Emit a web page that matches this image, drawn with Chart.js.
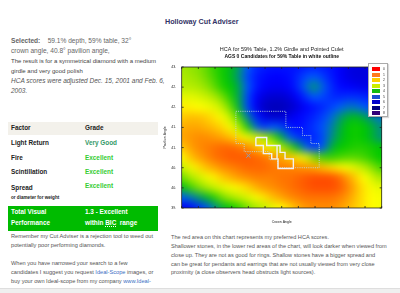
<!DOCTYPE html>
<html>
<head>
<meta charset="utf-8">
<script src="https://cdn.jsdelivr.net/npm/chart.js@4.4.1/dist/chart.umd.min.js"></script>
<style>
html, body { margin: 0; padding: 0; background: #fff; }
body { width: 400px; height: 293px; overflow: hidden; position: relative;
       font-family: Arial, "Liberation Sans", sans-serif; color: #555; }
.abs { position: absolute; white-space: nowrap; }
.row { position: absolute; white-space: nowrap; height: 10px; line-height: 10px; font-size: 6.4px; font-weight: bold; color: #222; }
.vg { color: #339966; }
.ex { color: #33cc33; }
a { color: #3a6fc4; text-decoration: none; }
#legendBox { position: absolute; left: 368px; top: 63px; width: 18px; height: 52px; background: #fff;
             border: 1px solid #aaa; box-shadow: 1px 1px 1px rgba(0,0,0,0.15); }
#legendBox div { position: absolute; left: 3px; width: 8px; height: 4px; }
#legendBox span { position: absolute; left: 14px; font-size: 3.4px; line-height: 4px; color: #333; }
</style>
</head>
<body>

<!-- left column -->
<div class="abs" style="left:11px;top:36px;font-size:6.6px;line-height:10px;color:#666"><b>Selected:</b>&nbsp;&nbsp;&nbsp; 59.1% depth, 59% table, 32°<br>crown angle, 40.8° pavilion angle,</div>
<div class="abs" style="left:11px;top:56px;font-size:6px;line-height:10px;color:#444">The result is for a symmetrical diamond with a medium<br>girdle and very good polish</div>
<div class="abs" style="left:11px;top:76px;font-size:6.5px;line-height:10px;color:#555;font-style:italic">HCA scores were adjusted Dec. 15, 2001 and Feb. 6,<br>2003.</div>

<div class="abs" style="left:8px;top:122px;width:150px;height:13px;background:#f3f1eb"></div>
<div class="row" style="left:11px;top:123px">Factor</div>
<div class="row" style="left:85px;top:123px">Grade</div>
<div class="row" style="left:11px;top:137.7px">Light Return</div>
<div class="row vg" style="left:85px;top:137.7px">Very Good</div>
<div class="row" style="left:11px;top:152.7px">Fire</div>
<div class="row ex" style="left:85px;top:152.7px">Excellent</div>
<div class="row" style="left:11px;top:167.3px">Scintillation</div>
<div class="row ex" style="left:85px;top:167.3px">Excellent</div>
<div class="row" style="left:11px;top:182.7px">Spread</div>
<div class="row ex" style="left:85px;top:181px">Excellent</div>
<div class="row" style="left:11px;top:193.3px;font-size:4.6px">or diameter for weight</div>

<div class="abs" style="left:8px;top:206px;width:150px;height:25px;background:#0b0"></div>
<div class="row" style="left:11px;top:207px;color:#fff">Total Visual</div>
<div class="row" style="left:11px;top:217.7px;color:#fff">Performance</div>
<div class="row" style="left:85px;top:207px;color:#fff">1.3 - Excellent</div>
<div class="row" style="left:85px;top:217.7px;color:#fff">within <span style="border-bottom:0.7px dotted #fff">BIC</span>&nbsp; range</div>

<div class="abs" style="left:11px;top:232.1px;font-size:5.65px;line-height:9.2px;color:#555">Remember my Cut Adviser is a rejection tool to weed out<br>potentially poor performing diamonds.</div>
<div class="abs" style="left:11px;top:258.7px;font-size:5.65px;line-height:9.2px;color:#555">When you have narrowed your search to a few<br>candidates I suggest you request <a>Ideal-Scope</a> images, or<br>buy your own Ideal-scope from my company <a>www.Ideal-</a></div>

<!-- right column -->
<div class="abs" style="left:165px;top:17px;font-size:7.2px;line-height:10px;font-weight:bold;color:#333366">Holloway Cut Adviser</div>
<canvas id="hcaChart" width="240" height="190" style="position:absolute;left:160px;top:40px"></canvas>
<div id="legendBox"></div>
<div class="abs" style="left:171px;top:232.8px;font-size:5.6px;line-height:8.9px;color:#555">The red area on this chart represents my preferred HCA scores.<br>Shallower stones, in the lower red areas of the chart, will look darker when viewed from<br>close up. They are not as good for rings. Shallow stones have a bigger spread and<br>can be great for pendants and earrings that are not usually viewed from very close<br>proximity (a close observers head obstructs light sources).</div>

<div class="abs" style="left:0;top:288px;width:400px;height:5px;background:#efefef;border-top:1px solid #dedede"></div>

<script>
// crown angle columns and pavilion angle rows of the HCA grid
const crownAngles = [28, 28.5, 29, 29.5, 30, 30.5, 31, 31.5, 32, 32.5, 33, 33.5, 34,
                     34.5, 35, 35.5, 36, 36.5, 37, 37.5, 38, 38.5, 39, 39.5, 40];
const pavilionAngles = [43, 42.75, 42.5, 42.25, 42, 41.75, 41.5, 41.25, 41, 40.75,
                        40.5, 40.25, 40, 39.75, 39.5];

// HCA score, one row per pavilion angle
const hcaScores = [
    [3.0,3.1,3.2,3.4,3.7,3.9,4.1,4.4,5.0,5.5,5.7,5.8,5.8,5.8,5.8,5.7,5.6,5.7,5.8,6.0,6.2,6.3,6.3,6.2,6.0],
    [2.9,3.0,3.1,3.3,3.6,3.9,4.1,4.5,5.2,5.7,5.9,6.0,6.0,5.9,5.6,5.2,5.0,5.3,5.7,6.0,6.2,6.3,6.3,6.2,6.1],
    [2.8,2.8,2.9,3.1,3.4,3.8,4.0,4.3,5.0,5.7,6.0,6.1,6.1,6.0,5.6,4.9,4.4,4.9,5.5,5.9,6.0,6.1,6.2,6.1,6.0],
    [2.3,2.3,2.4,2.6,2.9,3.3,3.8,4.3,5.2,6.0,6.3,6.4,6.4,6.3,6.0,5.5,5.0,5.2,5.5,5.6,5.5,5.5,5.6,5.7,5.8],
    [1.9,1.9,2.0,2.1,2.3,2.7,3.4,4.2,5.2,6.1,6.5,6.6,6.6,6.5,6.3,6.0,5.8,5.6,5.3,5.0,4.8,4.8,5.0,5.2,5.3],
    [1.6,1.5,1.5,1.6,1.8,2.1,2.7,3.6,4.6,5.6,6.2,6.4,6.4,6.2,6.0,5.8,5.6,5.3,4.9,4.5,4.2,4.1,4.3,4.6,4.8],
    [1.4,1.3,1.3,1.4,1.5,1.7,2.1,2.8,3.8,4.8,5.4,5.0,5.2,5.7,5.9,5.7,5.4,5.1,4.7,4.3,4.0,3.9,4.0,4.2,4.5],
    [1.3,1.2,1.1,1.1,1.2,1.3,1.5,1.8,2.2,2.5,2.9,3.4,4.2,4.9,5.4,5.6,5.6,5.2,4.6,4.2,4.0,3.9,4.0,4.2,4.5],
    [1.6,1.3,1.1,1.0,0.9,0.8,0.8,0.9,1.1,1.4,1.8,2.2,2.8,3.4,4.2,4.9,5.4,5.1,4.3,4.0,3.9,3.8,3.8,3.9,4.0],
    [2.0,1.6,1.3,1.1,0.9,0.8,0.7,0.7,0.7,0.8,0.9,1.1,1.3,1.5,1.8,2.3,3.2,3.6,3.7,3.6,3.5,3.5,3.6,3.8,4.0],
    [2.7,2.2,1.8,1.5,1.3,1.1,1.0,0.9,0.8,0.8,0.8,0.9,1.0,1.0,1.1,1.2,1.3,1.5,1.7,1.9,2.1,2.4,2.8,3.2,3.6],
    [3.4,3.0,2.6,2.2,1.9,1.6,1.4,1.2,1.1,1.0,1.0,1.0,0.9,0.9,0.8,0.7,0.6,0.6,0.6,0.8,1.2,1.6,2.0,2.5,3.0],
    [4.1,3.7,3.3,3.0,2.6,2.3,2.1,1.9,1.7,1.4,1.2,1.1,1.0,0.9,0.8,0.7,0.6,0.6,0.6,0.7,1.0,1.4,1.8,2.1,2.3],
    [5.0,4.8,4.5,4.2,3.8,3.3,3.0,2.7,2.4,2.1,1.8,1.5,1.3,1.1,1.0,0.9,0.9,0.9,0.9,1.0,1.2,1.5,1.8,2.0,2.1],
    [6.2,6.0,5.6,5.2,4.6,4.2,4.0,3.7,3.3,3.0,2.7,2.3,2.0,1.7,1.4,1.2,1.1,1.1,1.1,1.2,1.4,1.6,1.8,2.0,2.1]
];

// AGS 0 candidate outline (dotted) and white outline
const dottedCrown = [31.25, 34.25, 34.25, 35.25, 35.25, 35.75, 35.75, 36.25, 36.25, 33.75, 33.75, 33.25, 33.25, 31.75, 31.75, 31.25, 31.25];
const dottedPav   = [41.9, 41.9, 41.5, 41.5, 41.3, 41.3, 41.1, 41.1, 40.5, 40.5, 40.7, 40.7, 40.9, 40.9, 41.1, 41.1, 41.9];
const whiteCrown  = [32.45, 33.1, 33.1, 33.9, 33.9, 34.2, 34.2, 34.7, 34.7, 33.78, 33.78, 33.4, 33.4, 32.9, 32.9, 32.45, 32.45];
const whitePav    = [41.25, 41.25, 41.05, 41.05, 40.88, 40.88, 40.72, 40.72, 40.48, 40.48, 40.72, 40.72, 40.85, 40.85, 41.05, 41.05, 41.25];
const innerCrown  = [33.72, 33.72];
const innerPav    = [41.05, 40.72];

// the selected stone
const selectedCrown = 32;
const selectedPav = 40.8;

const levels = ['0', '1', '2', '3', '4', '5', '6', '7', '8'];

// colour of each level, for the map and the key
const mapColors = [[255,0,0],[255,128,0],[255,255,0],[165,232,0],[0,200,0],[0,90,255],[0,0,255],[0,0,140],[60,0,120]];
const keyColors = ['#ff0000', '#ff7a1c', '#ffcc00', '#ccee00', '#11bb11', '#1a50d0', '#0000cc', '#000080', '#330077'];

function colorFor(v) {
    const i = Math.max(0, Math.min(mapColors.length - 2, Math.floor(v)));
    const t = Math.max(0, Math.min(1, v - i));
    const a = mapColors[i], b = mapColors[i + 1];
    return 'rgb(' + a.map((c, k) => Math.round(c + (b[k] - c) * t)).join(',') + ')';
}

const cells = [];
pavilionAngles.forEach((p, i) => {
    crownAngles.forEach((c, j) => cells.push({ x: c, y: p, v: hcaScores[i][j] }));
});

const pairs = (xs, ys) => xs.map((x, i) => ({ x: x, y: ys[i] }));

// key
const box = document.getElementById('legendBox');
levels.forEach((lv, i) => {
    const sw = document.createElement('div');
    sw.style.top = (3 + i * 5.5) + 'px';
    sw.style.background = keyColors[i];
    box.appendChild(sw);
    const tx = document.createElement('span');
    tx.style.top = (3 + i * 5.5) + 'px';
    tx.textContent = lv;
    box.appendChild(tx);
});

const M = 6;
const heatBlur = {
    id: 'heatBlur',
    afterDatasetDraw(chart, args) {
        if (args.index !== 0) return;
        const a = chart.chartArea;
        const r = chart.currentDevicePixelRatio || 1;
        const w = a.right - a.left + 2 * M, h = a.bottom - a.top + 2 * M;
        const tmp = document.createElement('canvas');
        tmp.width = Math.round(w * r);
        tmp.height = Math.round(h * r);
        tmp.getContext('2d').drawImage(chart.canvas, (a.left - M) * r, (a.top - M) * r, w * r, h * r,
            0, 0, tmp.width, tmp.height);
        const ctx = chart.ctx;
        ctx.save();
        ctx.clearRect(a.left - M, a.top - M, w, M);
        ctx.clearRect(a.left - M, a.bottom, w, M);
        ctx.clearRect(a.left - M, a.top, M, a.bottom - a.top);
        ctx.clearRect(a.right, a.top, M, a.bottom - a.top);
        ctx.beginPath();
        ctx.rect(a.left, a.top, a.right - a.left, a.bottom - a.top);
        ctx.clip();
        ctx.filter = 'blur(4px)';
        ctx.drawImage(tmp, a.left - M, a.top - M, w, h);
        ctx.restore();
    },
    afterDraw(chart) {
        const ctx = chart.ctx, a = chart.chartArea;
        const xs = chart.scales.x, ys = chart.scales.y;
        ctx.save();
        ctx.strokeStyle = '#222';
        ctx.lineWidth = 0.8;
        ctx.strokeRect(a.left, a.top, a.right - a.left, a.bottom - a.top);
        ctx.beginPath();
        xs.ticks.forEach(t => {
            const px = xs.getPixelForValue(t.value);
            ctx.moveTo(px, a.bottom); ctx.lineTo(px, a.bottom - 2);
            ctx.moveTo(px, a.top); ctx.lineTo(px, a.top + 2);
        });
        ys.ticks.forEach(t => {
            const py = ys.getPixelForValue(t.value);
            ctx.moveTo(a.left, py); ctx.lineTo(a.left + 2, py);
            ctx.moveTo(a.right, py); ctx.lineTo(a.right - 2, py);
        });
        ctx.stroke();
        ctx.restore();
    }
};

Chart.defaults.font.family = 'Arial, "Liberation Sans", sans-serif';

const hcaChart = document.getElementById('hcaChart');

new Chart(hcaChart, {
    type: 'scatter',
    data: {
        datasets: [{
            label: 'HCA',
            data: cells,
            order: 10,
            clip: M,
            pointStyle: 'rect',
            pointBorderWidth: 0,
            pointBorderColor: 'transparent',
            pointBackgroundColor: ctx => ctx.raw ? colorFor(ctx.raw.v) : '#fff',
            pointRadius: ctx => {
                const s = ctx.chart.scales;
                if (!s.x || !s.y) return 7.5;
                const w = Math.abs(s.x.getPixelForValue(28.5) - s.x.getPixelForValue(28));
                const h = Math.abs(s.y.getPixelForValue(40.25) - s.y.getPixelForValue(40));
                return Math.max(w, h) * 0.76;
            },
            pointHoverRadius: 0
        }, {
            label: 'AGS 0 candidates',
            data: pairs(dottedCrown, dottedPav),
            showLine: true,
            order: 2,
            borderColor: '#bcd6dc',
            borderWidth: 0.9,
            borderDash: [1, 1.2],
            pointRadius: 0
        }, {
            label: 'white outline',
            data: pairs(whiteCrown, whitePav),
            showLine: true,
            order: 1,
            borderColor: '#f2f2f2',
            borderWidth: 1.4,
            pointRadius: 0
        }, {
            label: 'white outline inner',
            data: pairs(innerCrown, innerPav),
            showLine: true,
            order: 1,
            borderColor: '#f2f2f2',
            borderWidth: 1.4,
            pointRadius: 0
        }, {
            label: 'selected',
            data: [{ x: selectedCrown, y: selectedPav }],
            order: 0,
            pointStyle: 'crossRot',
            pointRadius: 3,
            pointBorderColor: '#8c9cb4',
            pointBorderWidth: 1
        }]
    },
    options: {
        responsive: false,
        animation: false,
        events: [],
        layout: { padding: { left: 0, right: 18.3, top: 0, bottom: 0 } },
        scales: {
            x: {
                type: 'linear',
                min: 28,
                max: 40,
                z: 1,
                afterFit: s => { s.height = 22; },
                ticks: { stepSize: 1, padding: 3, color: '#222', font: { size: 3.6 } },
                grid: { color: 'rgba(255,255,255,0.28)', lineWidth: 0.6, drawTicks: false },
                border: { display: false, dash: [1, 2] },
                title: { display: true, text: 'Crown Angle', color: '#222', font: { size: 3.5 }, padding: { top: 0, bottom: 5.9 } }
            },
            y: {
                type: 'linear',
                min: 39.5,
                max: 43,
                z: 1,
                afterFit: s => { s.width = 21.7; },
                ticks: { stepSize: 0.5, padding: 3.4, color: '#222', font: { size: 3.6 },
                         callback: v => Number(v).toFixed(1) },
                grid: { color: 'rgba(255,255,255,0.28)', lineWidth: 0.6, drawTicks: false },
                border: { display: false, dash: [1, 2] },
                title: { display: true, text: 'Pavilion Angle', color: '#222', font: { size: 3.5 }, padding: { top: 2.9, bottom: 0 } }
            }
        },
        plugins: {
            legend: { display: false },
            tooltip: { enabled: false },
            title: {
                display: true,
                fullSize: false,
                text: 'HCA for 59% Table, 1.2% Girdle and Pointed Culet',
                color: '#222',
                font: { size: 5.5, weight: 'normal' },
                padding: { top: 5.7, bottom: 1.7 }
            },
            subtitle: {
                display: true,
                fullSize: false,
                text: 'AGS 0 Candidates for 59% Table in white outline',
                color: '#111',
                font: { size: 5, weight: 'bold' },
                padding: { top: 0, bottom: 7 }
            }
        }
    },
    plugins: [heatBlur]
});
</script>
</body>
</html>
